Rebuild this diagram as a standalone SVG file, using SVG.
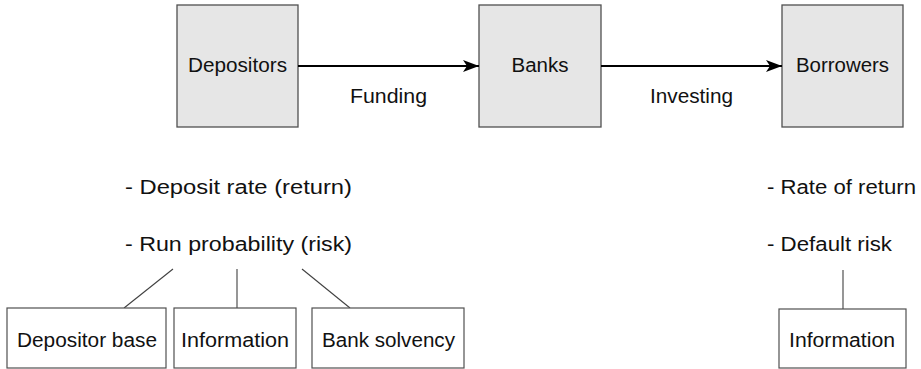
<svg xmlns="http://www.w3.org/2000/svg" width="921" height="369" viewBox="0 0 921 369">
<style>
  text { font-family: "Liberation Sans", Arial, sans-serif; font-size: 19.5px; fill: #111; }
  .main { fill: #e6e6e6; stroke: #505050; stroke-width: 1.3; }
  .sub { fill: #ffffff; stroke: #505050; stroke-width: 1.2; }
  .flow { stroke: #000; stroke-width: 2; fill: none; }
  .tie { stroke: #404040; stroke-width: 1.1; fill: none; }
</style>
<defs>
  <marker id="stealth" viewBox="0 0 16 12" refX="16" refY="6" markerWidth="16" markerHeight="12" markerUnits="userSpaceOnUse" orient="auto">
    <path d="M16,6 L0,0 L4,6 L0,12 Z" fill="#000"/>
  </marker>
</defs>
<rect width="921" height="369" fill="#ffffff"/>

<g id="depositors">
  <rect class="main" x="177" y="5" width="121" height="122"/>
  <text x="237.5" y="72" text-anchor="middle" textLength="99" lengthAdjust="spacingAndGlyphs">Depositors</text>
</g>
<g id="banks">
  <rect class="main" x="479" y="5" width="122" height="122"/>
  <text x="540" y="72" text-anchor="middle" textLength="57" lengthAdjust="spacingAndGlyphs">Banks</text>
</g>
<g id="borrowers">
  <rect class="main" x="782" y="5" width="121" height="122"/>
  <text x="842.5" y="72" text-anchor="middle" textLength="93" lengthAdjust="spacingAndGlyphs">Borrowers</text>
</g>

<g id="connectors">
  <line class="flow" x1="298" y1="66" x2="479" y2="66" marker-end="url(#stealth)"/>
  <line class="flow" x1="601" y1="66" x2="782" y2="66" marker-end="url(#stealth)"/>
  <line class="tie" x1="173" y1="269" x2="124" y2="308"/>
  <line class="tie" x1="237" y1="269" x2="237" y2="308"/>
  <line class="tie" x1="302" y1="269" x2="350" y2="308"/>
  <line class="tie" x1="843" y1="270" x2="843" y2="309"/>
</g>

<g id="edge-labels">
  <text x="388.5" y="103" text-anchor="middle" textLength="77" lengthAdjust="spacingAndGlyphs">Funding</text>
  <text x="691.5" y="103" text-anchor="middle" textLength="83" lengthAdjust="spacingAndGlyphs">Investing</text>
</g>

<g id="depositor-criteria">
  <text x="125" y="194" textLength="227" lengthAdjust="spacingAndGlyphs">- Deposit rate (return)</text>
  <text x="125" y="251" textLength="227" lengthAdjust="spacingAndGlyphs">- Run probability (risk)</text>
</g>
<g id="borrower-criteria">
  <text x="767" y="194" textLength="149" lengthAdjust="spacingAndGlyphs">- Rate of return</text>
  <text x="767" y="251" textLength="125" lengthAdjust="spacingAndGlyphs">- Default risk</text>
</g>

<g id="depositor-base">
  <rect class="sub" x="7" y="308" width="159" height="60"/>
  <text x="87" y="347" text-anchor="middle" textLength="140" lengthAdjust="spacingAndGlyphs">Depositor base</text>
</g>
<g id="information-left">
  <rect class="sub" x="174" y="308" width="122" height="60"/>
  <text x="235" y="347" text-anchor="middle" textLength="108" lengthAdjust="spacingAndGlyphs">Information</text>
</g>
<g id="bank-solvency">
  <rect class="sub" x="312" y="308" width="152" height="60"/>
  <text x="388.5" y="347" text-anchor="middle" textLength="133" lengthAdjust="spacingAndGlyphs">Bank solvency</text>
</g>
<g id="information-right">
  <rect class="sub" x="779" y="309" width="127" height="59"/>
  <text x="842" y="347" text-anchor="middle" textLength="106" lengthAdjust="spacingAndGlyphs">Information</text>
</g>
</svg>
